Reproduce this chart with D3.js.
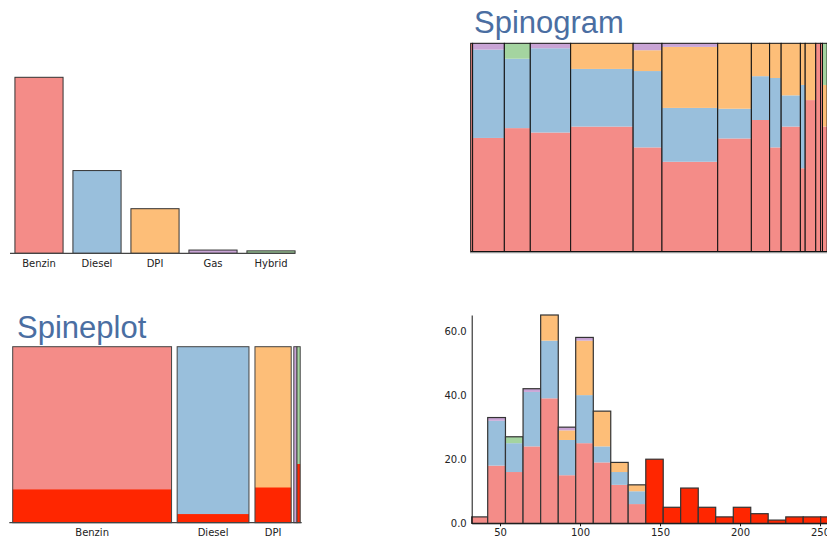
<!DOCTYPE html>
<html>
<head>
<meta charset="utf-8">
<script src="https://cdn.jsdelivr.net/npm/d3@7"></script>
<style>
  body { margin: 0; background: #fff; }
  svg { display: block; }
</style>
</head>
<body>
<script>
// Fuel categories and their colours
const fuels = ["Benzin", "Diesel", "DPI", "Gas", "Hybrid"];
const fuelColors = ["#f48c88", "#99bfdc", "#fdbe78", "#c9a4d5", "#a4d4a0"];
const selColor = "#ff2600";

// Price histogram bins (edges) and counts per fuel in each bin
const binEdges = [32.3, 42.3, 53.4, 64.4, 75.4, 86.4, 97.3, 108.3, 119.2, 130.1, 141.1,
                  152.0, 162.9, 173.9, 184.8, 195.8, 206.7, 217.6, 228.6, 239.5, 250.4, 261.4];
const benzin = [2, 18, 16, 24, 39, 15, 25, 19, 12, 6, 12, 2, 8, 5, 2, 3, 3, 0, 2, 2, 2];
const diesel = [0, 14, 9, 17, 18, 11, 15, 5, 4, 4, 3, 2, 0, 0, 0, 0, 0, 0, 0, 0, 0];
const dpi    = [0, 0, 0, 0, 8, 3, 17, 11, 3, 2, 5, 1, 3, 0, 0, 1, 0, 1, 0, 0, 0];
const gas    = [0, 1, 0, 1, 0, 1, 1, 0, 0, 0, 0, 0, 0, 0, 0, 0, 0, 0, 0, 0, 0];
const hybrid = [0, 0, 2, 0, 0, 0, 0, 0, 0, 0, 0, 0, 0, 0, 0, 1, 0, 0, 0, 0, 0];

// bins starting at or above this price are the highlighted selection
const selectedFrom = 140;

const histYTicks = [0, 20, 40, 60];
const histXTicks = [50, 100, 150, 200, 250];

const series = [benzin, diesel, dpi, gas, hybrid];
const bins = binEdges.slice(0, -1).map((x0, i) => {
    const counts = series.map(s => s[i]);
    return { x0, x1: binEdges[i + 1], counts, total: d3.sum(counts), selected: x0 >= selectedFrom };
});
const totals = series.map(s => d3.sum(s));
const selTotals = fuels.map((f, j) => d3.sum(bins.filter(b => b.selected), b => b.counts[j]));

const font = "DejaVu Sans";
const svg = d3.select("body").append("svg").attr("width", 827).attr("height", 540);

// ---------- Bar chart (top left) ----------
const barX = d3.scaleBand().domain(fuels).range([10, 300]).paddingInner(0.17).paddingOuter(0.085);
const barY = d3.scaleLinear().domain([0, d3.max(totals)]).range([253.3, 77.3]);
const barG = svg.append("g");
barG.selectAll("rect").data(fuels).enter().append("rect")
    .attr("x", d => barX(d))
    .attr("y", (d, i) => barY(totals[i]))
    .attr("width", barX.bandwidth())
    .attr("height", (d, i) => barY(0) - barY(totals[i]))
    .attr("fill", (d, i) => fuelColors[i])
    .attr("stroke", "#333").attr("stroke-width", 1);
barG.append("line")
    .attr("x1", 10).attr("x2", barX("Hybrid") + barX.bandwidth())
    .attr("y1", barY(0)).attr("y2", barY(0))
    .attr("stroke", "#444").attr("stroke-width", 1.2);
barG.selectAll("text").data(fuels).enter().append("text")
    .attr("x", d => barX(d) + barX.bandwidth() / 2)
    .attr("y", 266.5)
    .attr("text-anchor", "middle")
    .style("font-family", font).style("font-size", "10px").attr("fill", "#222")
    .text(d => d);

// ---------- Spinogram (top right) ----------
svg.append("text").attr("x", 474).attr("y", 33)
    .style("font-family", "Liberation Sans").style("font-size", "31px").attr("fill", "#4a6ea2")
    .text("Spinogram");
const cum = d3.cumsum(bins.map(b => b.total));
const spinX = d3.scaleLinear().domain([0, d3.sum(bins, b => b.total)]).range([470.7, 836.9]);
const spinY = d3.scaleLinear().domain([0, 1]).range([251.5, 43.3]);
const spinG = svg.append("g");
bins.forEach((b, i) => {
    const xa = spinX(i ? cum[i - 1] : 0), xb = spinX(cum[i]);
    let acc = 0;
    b.counts.forEach((c, j) => {
        if (!c) return;
        spinG.append("rect")
            .attr("x", xa).attr("width", xb - xa)
            .attr("y", spinY((acc + c) / b.total))
            .attr("height", spinY(acc / b.total) - spinY((acc + c) / b.total))
            .attr("fill", fuelColors[j]);
        acc += c;
    });
    spinG.append("rect")
        .attr("x", xa).attr("width", xb - xa)
        .attr("y", spinY(1)).attr("height", spinY(0) - spinY(1))
        .attr("fill", "none").attr("stroke", "#111").attr("stroke-width", 1);
});
spinG.append("line").attr("x1", 470).attr("x2", 827).attr("y1", 252.6).attr("y2", 252.6)
    .attr("stroke", "#999").attr("stroke-width", 1.2);

// ---------- Spineplot (bottom left) ----------
svg.append("text").attr("x", 17).attr("y", 338)
    .style("font-family", "Liberation Sans").style("font-size", "31px").attr("fill", "#4a6ea2")
    .text("Spineplot");
// each bar gets width proportional to its count, minus a fixed inset
const gaps = [5.6, 6, 2.6, 0];
const spineW = d3.scaleLinear().domain([0, d3.sum(totals)]).range([0, 288.4]);
const spineY = d3.scaleLinear().domain([0, 1]).range([522.7, 346.7]);
const spineG = svg.append("g");
let sx = 12.7;
fuels.forEach((f, j) => {
    const w = Math.max(spineW(totals[j]) - 5.4, 3.2);
    const frac = selTotals[j] / totals[j];
    spineG.append("rect").attr("x", sx).attr("width", w)
        .attr("y", spineY(1)).attr("height", spineY(0) - spineY(1))
        .attr("fill", fuelColors[j]);
    if (frac > 0) {
        spineG.append("rect").attr("x", sx).attr("width", w)
            .attr("y", spineY(frac)).attr("height", spineY(0) - spineY(frac))
            .attr("fill", selColor);
    }
    spineG.append("rect").attr("x", sx).attr("width", w)
        .attr("y", spineY(1)).attr("height", spineY(0) - spineY(1))
        .attr("fill", "none").attr("stroke", "#444").attr("stroke-width", 1);
    if (w > 20) {
        spineG.append("text").attr("x", sx + w / 2).attr("y", 535.5)
            .attr("text-anchor", "middle")
            .style("font-family", font).style("font-size", "10px").attr("fill", "#222")
            .text(f);
    }
    sx += w + (gaps[j] || 0);
});
spineG.append("line").attr("x1", 9.3).attr("x2", 301.7)
    .attr("y1", spineY(0)).attr("y2", spineY(0))
    .attr("stroke", "#444").attr("stroke-width", 1.2);

// ---------- Histogram (bottom right) ----------
const hx = d3.scaleLinear().domain([32.3, 262]).range([471.7, 471.7 + 229.7 * 1.6]);
const hy = d3.scaleLinear().domain([0, d3.max(bins, b => b.total)]).range([523.3, 315]);
const histG = svg.append("g");
bins.forEach(b => {
    const xa = hx(b.x0), w = hx(b.x1) - hx(b.x0);
    if (b.selected) {
        histG.append("rect").attr("x", xa).attr("width", w)
            .attr("y", hy(b.total)).attr("height", hy(0) - hy(b.total))
            .attr("fill", selColor);
    } else {
        let acc = 0;
        b.counts.forEach((c, j) => {
            if (!c) return;
            histG.append("rect").attr("x", xa).attr("width", w)
                .attr("y", hy(acc + c)).attr("height", hy(acc) - hy(acc + c))
                .attr("fill", fuelColors[j]);
            acc += c;
        });
    }
    histG.append("rect").attr("x", xa).attr("width", w)
        .attr("y", hy(b.total)).attr("height", hy(0) - hy(b.total))
        .attr("fill", "none").attr("stroke", "#333").attr("stroke-width", 1.2);
});

const yAxis = svg.append("g").attr("transform", `translate(${hx(32.3)},0)`)
    .call(d3.axisLeft(hy).tickValues(histYTicks).tickFormat(d3.format(".1f")).tickSize(0).tickPadding(5));
const xAxis = svg.append("g").attr("transform", `translate(0,${hy(0)})`)
    .call(d3.axisBottom(hx).tickValues(histXTicks).tickFormat(d3.format("d")).tickSize(3).tickSizeOuter(0).tickPadding(3));
[yAxis, xAxis].forEach(a => {
    a.selectAll("path, line").attr("stroke", "#111");
    a.selectAll("text").style("font-family", font).style("font-size", "10px").attr("fill", "#222");
});
</script>
</body>
</html>
